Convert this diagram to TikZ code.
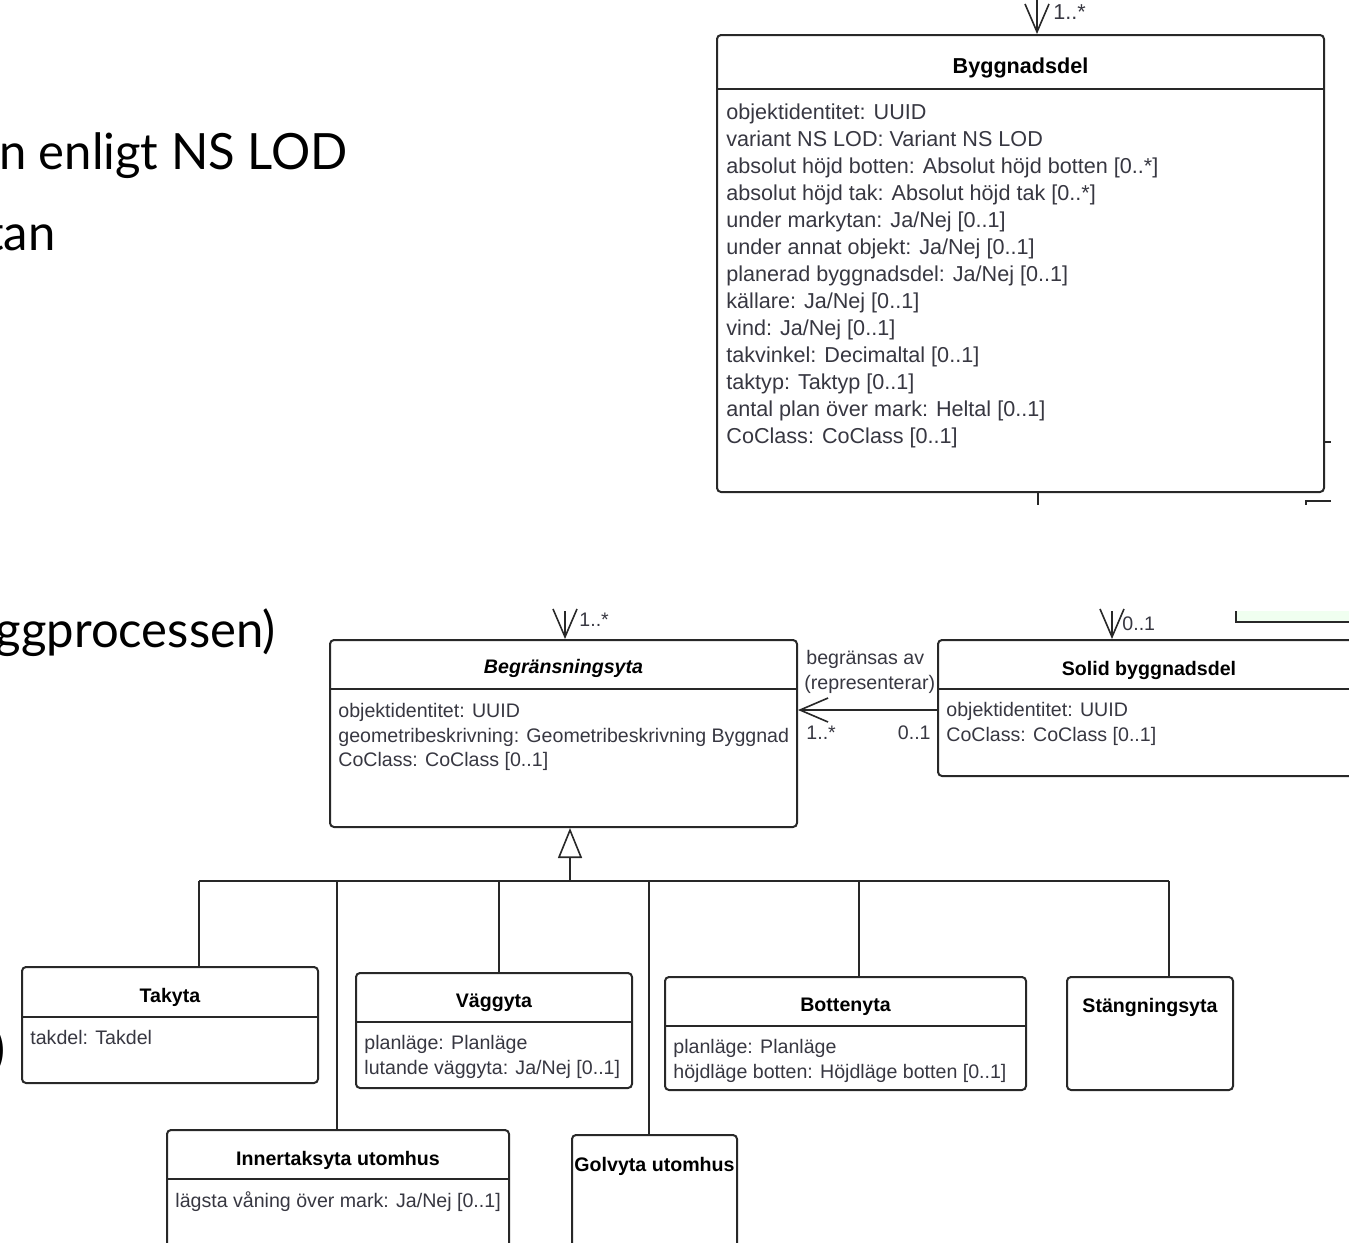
\documentclass[tikz,border=0pt]{standalone}
\usepackage{fontspec}
\setmainfont{Liberation Sans}
\newfontfamily\slidefont[FakeStretch=0.98]{Lato}
\usetikzlibrary{arrows.meta,calc,fit,positioning}
\definecolor{umlline}{RGB}{40,40,40}
\definecolor{umltext}{RGB}{55,55,65}
\definecolor{notegreen}{RGB}{240,255,240}
\newcommand{\umlbig}{\fontsize{10.8}{13.5}\selectfont}
\newcommand{\umlsmall}{\fontsize{9.8}{12.25}\selectfont}

\begin{document}
\begin{tikzpicture}[x=0.5pt,y=-0.5pt,
	cls/.style={draw=umlline,line width=1pt,rounded corners=2pt,inner sep=0pt},
	sep/.style={draw=umlline,line width=1pt},
	link/.style={draw=umlline,line width=0.8pt},
	nav/.style={link,-{Straight Barb[length=14pt,width=12pt,line width=0.8pt]}},
	gen/.style={link,-{Triangle[open,length=15pt,width=12pt,line width=0.8pt]}},
	ttl/.style={inner sep=0pt,text=black},
	attr/.style={inner sep=0pt,anchor=north west,align=left,text=umltext},
	mult/.style={inner sep=0pt,text=umltext,font=\umlsmall},
	slidetxt/.style={inner sep=0pt,anchor=base east,font=\slidefont\fontsize{25}{30}\selectfont}]
		\useasboundingbox (0,0) rectangle (1349,1242);
		\clip (0,0) rectangle (1349,1242);
		
		% slide text behind the diagrams
		\node[slidetxt] (slideA) at (348,169) {n enligt NS LOD};
		\node[slidetxt] (slideB) at (56,250) {tan};
		\node[slidetxt] (slideC) at (276,647) {ggprocessen)};
		\node[slidetxt] (slideD) at (6,1066) {)};
		
		% upper diagram
		\node[cls, fit={(717,35) (1324,492)}] (bygg) {};
		\draw[sep] ($(bygg.north west)+(0,55)$) -- ($(bygg.north east)+(0,55)$);
		\node[ttl, font=\umlbig\bfseries] (byggT) at ($(bygg.north)+(0,34)$) {Byggnadsdel};
		\node[attr, font=\umlbig] (byggA) at ($(bygg.north west)+(10,69)$) {objektidentitet: UUID\\
			variant NS LOD: Variant NS LOD\\
			absolut höjd botten: Absolut höjd botten [0..*]\\
			absolut höjd tak: Absolut höjd tak [0..*]\\
			under markytan: Ja/Nej [0..1]\\
			under annat objekt: Ja/Nej [0..1]\\
			planerad byggnadsdel: Ja/Nej [0..1]\\
			källare: Ja/Nej [0..1]\\
			vind: Ja/Nej [0..1]\\
			takvinkel: Decimaltal [0..1]\\
			taktyp: Taktyp [0..1]\\
			antal plan över mark: Heltal [0..1]\\
			CoClass: CoClass [0..1]};
		
		\coordinate (byggIn) at (1037,-10);
		\draw[nav] (byggIn) -- (bygg.north -| byggIn);
		\node[mult, anchor=west, font=\umlbig] (byggM) at (1053,12) {1..*};
		\coordinate (byggOut) at (1038,505);
		\draw[link] (bygg.south -| byggOut) -- (byggOut);
		\coordinate (byggR) at (1331,442);
		\draw[link] (bygg.east |- byggR) -- (byggR);
		\draw[link] (1331,501) -- (1306,501) -- (1306,505);
		
		% lower diagram
		\fill[notegreen] (1236,611) rectangle (1360,622);
		\draw[link] (1236,611) -- (1236,622) -- (1360,622);
		
		\node[cls, fit={(330,640) (797,827)}] (begr) {};
		\draw[sep] ($(begr.north west)+(0,50)$) -- ($(begr.north east)+(0,50)$);
		\node[ttl, font=\umlsmall\bfseries\itshape] (begrT) at ($(begr.north)+(0,29)$) {Begränsningsyta};
		\node[attr, font=\umlsmall] (begrA) at ($(begr.north west)+(9,64)$) {objektidentitet: UUID\\
			geometribeskrivning: Geometribeskrivning Byggnad\\
			CoClass: CoClass [0..1]};
		
		\node[cls, fit={(938,640) (1360,776)}] (solid) {};
		\draw[sep] ($(solid.north west)+(0,50)$) -- ($(solid.north east)+(0,50)$);
		\node[ttl, font=\umlsmall\bfseries] (solidT) at (1149,670) {Solid byggnadsdel};
		\node[attr, font=\umlsmall] (solidA) at ($(solid.north west)+(9,63)$) {objektidentitet: UUID\\
			CoClass: CoClass [0..1]};
		
		\coordinate (begrIn) at (565,611);
		\draw[nav] (begrIn) -- (begr.north -| begrIn);
		\node[mult, anchor=west] (begrM) at (579,620) {1..*};
		\coordinate (solidIn) at (1112,611);
		\draw[nav] (solidIn) -- (solid.north -| solidIn);
		\node[mult, anchor=west] (solidM) at (1122,624) {0..1};
		
		\coordinate (assocY) at (0,710);
		\draw[nav] (solid.west |- assocY) -- (begr.east |- assocY);
		\node[mult, anchor=west] (assocA) at (806,659) {begränsas av};
		\node[mult, anchor=west] (assocB) at (804,684) {(representerar)};
		\node[mult, anchor=west] (assocC) at (806,733) {1..*};
		\node[mult, anchor=east] (assocD) at (931,733) {0..1};
		
		% subtypes
		\node[cls, fit={(22,967) (318,1083)}] (takyta) {};
		\draw[sep] ($(takyta.north west)+(0,51)$) -- ($(takyta.north east)+(0,51)$);
		\node[ttl, font=\umlsmall\bfseries] (takytaT) at ($(takyta.north)+(0,31)$) {Takyta};
		\node[attr, font=\umlsmall] (takytaA) at ($(takyta.north west)+(9,64)$) {takdel: Takdel};
		
		\node[cls, fit={(356,973) (632,1088)}] (vagg) {};
		\draw[sep] ($(vagg.north west)+(0,50)$) -- ($(vagg.north east)+(0,50)$);
		\node[ttl, font=\umlsmall\bfseries] (vaggT) at ($(vagg.north)+(0,31)$) {Väggyta};
		\node[attr, font=\umlsmall] (vaggA) at ($(vagg.north west)+(9,63)$) {planläge: Planläge\\
			lutande väggyta: Ja/Nej [0..1]};
		
		\node[cls, fit={(665,977) (1026,1090)}] (botten) {};
		\draw[sep] ($(botten.north west)+(0,50)$) -- ($(botten.north east)+(0,50)$);
		\node[ttl, font=\umlsmall\bfseries] (bottenT) at ($(botten.north)+(0,31)$) {Bottenyta};
		\node[attr, font=\umlsmall] (bottenA) at ($(botten.north west)+(9,63)$) {planläge: Planläge\\
			höjdläge botten: Höjdläge botten [0..1]};
		
		\node[cls, fit={(1067,977) (1233,1090)}] (stang) {};
		\node[ttl, font=\umlsmall\bfseries] (stangT) at ($(stang.north)+(0,31)$) {Stängningsyta};
		
		\node[cls, fit={(167,1130) (509,1260)}] (inner) {};
		\draw[sep] ($(inner.north west)+(0,50)$) -- ($(inner.north east)+(0,50)$);
		\node[ttl, font=\umlsmall\bfseries] (innerT) at ($(inner.north)+(0,31)$) {Innertaksyta utomhus};
		\node[attr, font=\umlsmall] (innerA) at ($(inner.north west)+(9,62)$) {lägsta våning över mark: Ja/Nej [0..1]};
		
		\node[cls, fit={(572,1135) (737,1260)}] (golv) {};
		\node[ttl, font=\umlsmall\bfseries] (golvT) at ($(golv.north)+(0,32)$) {Golvyta utomhus};
		
		% generalization tree
		\coordinate (busG) at (570,881);
		\coordinate (busT) at (199,881);
		\coordinate (busI) at (337,881);
		\coordinate (busV) at (499,881);
		\coordinate (busGo) at (649,881);
		\coordinate (busB) at (859,881);
		\coordinate (busS) at (1169,881);
		\draw[gen] (busG) -- (begr.south -| busG);
		\draw[link] (busT) -- (busS);
		\draw[link] (busT) -- (takyta.north -| busT);
		\draw[link] (busI) -- (inner.north -| busI);
		\draw[link] (busV) -- (vagg.north -| busV);
		\draw[link] (busGo) -- (golv.north -| busGo);
		\draw[link] (busB) -- (botten.north -| busB);
		\draw[link] (busS) -- (stang.north -| busS);
\end{tikzpicture}
\end{document}
